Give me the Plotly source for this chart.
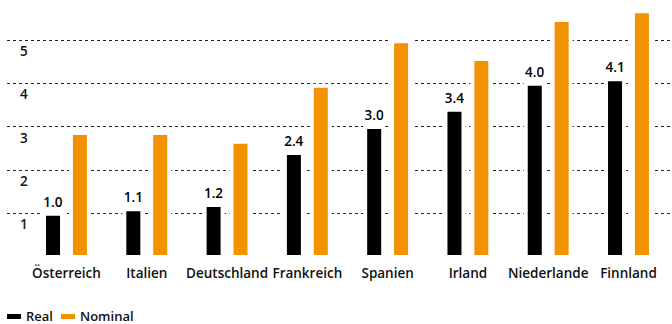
import plotly.graph_objects as go

countries = ["Österreich", "Italien", "Deutschland", "Frankreich", "Spanien", "Irland", "Niederlande", "Finnland"]
real = [1.0, 1.1, 1.2, 2.4, 3.0, 3.4, 4.0, 4.1]
nominal = [2.86, 2.86, 2.66, 3.95, 4.98, 4.57, 5.47, 5.67]
series_names = ["Real", "Nominal"]
colors = ["#000000", "#F39200"]
ytick_vals = [0, 1, 2, 3, 4, 5]
ytick_text = ["", "1", "2", "3", "4", "5"]

FONT = "Open Sans"
W, H = 672, 324
ML, MR, MT, MB = 7, 0, 0, 67

fig = go.Figure()
fig.add_trace(go.Bar(
    x=countries, y=real, name=series_names[0],
    marker=dict(color=colors[0], line=dict(color="white", width=4)),
    texttemplate="%{y:.1f}", textposition="outside", constraintext="none",
    textfont=dict(family=FONT, size=13.5, color="#000", weight=600),
    cliponaxis=False,
))
fig.add_trace(go.Bar(
    x=countries, y=nominal, name=series_names[1],
    marker=dict(color=colors[1], line=dict(color="white", width=4)),
))

fig.update_layout(
    width=W, height=H,
    margin=dict(l=ML, r=MR, t=MT, b=MB),
    barmode="group", bargap=0.33, bargroupgap=0.33,
    plot_bgcolor="white", paper_bgcolor="white",
    showlegend=False,
    font=dict(family=FONT, size=13, color="#000"),
)
fig.update_xaxes(
    range=[-0.741, 7.542], showgrid=False, zeroline=False, showline=False,
    ticks="", ticklabelstandoff=6,
    tickfont=dict(family=FONT, size=13.5, color="#111", weight=600),
)
fig.update_yaxes(
    range=[0, 5.93], tickvals=ytick_vals, ticktext=ytick_text,
    showgrid=True, gridcolor="#222", gridwidth=1, griddash="dot",
    zeroline=False, showline=False, ticks="",
    ticklabelposition="inside", ticklabelshift=11, ticklabelstandoff=10,
    tickfont=dict(family=FONT, size=13.5, color="#111", weight=600),
    layer="below traces",
)

# custom legend
plot_w = W - ML - MR
plot_h = H - MT - MB
def px_x(px):
    return (px - ML) / plot_w
def px_y(py):
    return (H - MB - py) / plot_h

legend_items = [(7, 21, 25), (61, 75, 79)]
for (x0, x1, tx), name, col in zip(legend_items, series_names, colors):
    fig.add_shape(type="rect", xref="paper", yref="paper",
                  x0=px_x(x0), x1=px_x(x1), y0=px_y(319), y1=px_y(314),
                  fillcolor=col, line=dict(width=0))
    fig.add_annotation(xref="paper", yref="paper", x=px_x(tx), y=px_y(316),
                       text=name, showarrow=False, xanchor="left", yanchor="middle",
                       borderpad=0,
                       font=dict(family=FONT, size=13, color="#111", weight=600))

fig.write_html("out.html")
